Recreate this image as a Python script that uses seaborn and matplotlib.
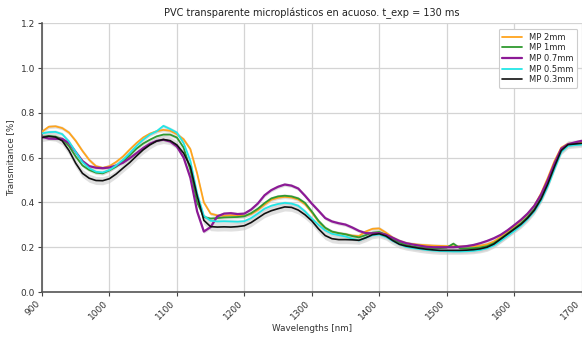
import numpy as np
import pandas as pd
import matplotlib
matplotlib.use("Agg")
import matplotlib.pyplot as plt
import seaborn as sns

# Transmittance spectra of transparent PVC microplastics in water
wavelengths = list(range(900, 1701, 10))

mp_2mm = [
    0.716, 0.738, 0.740, 0.732, 0.712, 0.675, 0.630, 0.590, 0.562, 0.554,
    0.562, 0.581, 0.605, 0.636, 0.665, 0.690, 0.707, 0.718, 0.724, 0.720,
    0.705, 0.682, 0.638, 0.530, 0.400, 0.350, 0.342, 0.340, 0.343, 0.342,
    0.340, 0.348, 0.366, 0.390, 0.412, 0.421, 0.425, 0.422, 0.413, 0.392,
    0.356, 0.315, 0.284, 0.268, 0.262, 0.258, 0.252, 0.250, 0.270, 0.282,
    0.284, 0.265, 0.243, 0.228, 0.218, 0.214, 0.211, 0.209, 0.207, 0.206,
    0.205, 0.204, 0.203, 0.203, 0.204, 0.207, 0.213, 0.225, 0.245, 0.268,
    0.292, 0.318, 0.348, 0.385, 0.440, 0.510, 0.585, 0.645, 0.662, 0.664,
    0.665,
]
mp_1mm = [
    0.693, 0.697, 0.694, 0.683, 0.652, 0.605, 0.565, 0.545, 0.533, 0.530,
    0.543, 0.560, 0.582, 0.610, 0.640, 0.663, 0.680, 0.695, 0.703, 0.703,
    0.690, 0.645, 0.545, 0.400, 0.335, 0.328, 0.330, 0.333, 0.334, 0.335,
    0.338, 0.352, 0.372, 0.397, 0.418, 0.427, 0.430, 0.427, 0.418, 0.398,
    0.360, 0.318, 0.287, 0.270, 0.263, 0.258, 0.250, 0.244, 0.254, 0.265,
    0.268, 0.256, 0.236, 0.220, 0.210, 0.203, 0.199, 0.197, 0.196, 0.196,
    0.198, 0.216, 0.195, 0.195, 0.196, 0.199, 0.205, 0.218, 0.238, 0.260,
    0.283, 0.306, 0.335, 0.370, 0.420, 0.488, 0.565, 0.635, 0.658, 0.660,
    0.662,
]
mp_07mm = [
    0.693, 0.685, 0.684, 0.684, 0.665, 0.625, 0.585, 0.562, 0.555, 0.553,
    0.556, 0.565, 0.577, 0.597, 0.620, 0.643, 0.662, 0.675, 0.680, 0.672,
    0.650, 0.600, 0.510, 0.360, 0.270, 0.290, 0.338, 0.350, 0.352, 0.348,
    0.350, 0.368, 0.395, 0.432, 0.455, 0.470, 0.480, 0.475, 0.462, 0.430,
    0.395, 0.363, 0.330, 0.315, 0.307, 0.301, 0.288, 0.273, 0.263, 0.262,
    0.263, 0.256, 0.242, 0.228, 0.218, 0.212, 0.207, 0.202, 0.200, 0.200,
    0.200, 0.200, 0.202, 0.205, 0.210, 0.218, 0.228, 0.240, 0.255, 0.275,
    0.298, 0.322, 0.350, 0.385, 0.435, 0.500, 0.575, 0.640, 0.660, 0.668,
    0.675,
]
mp_05mm = [
    0.708, 0.714, 0.715, 0.705, 0.672, 0.625, 0.580, 0.553, 0.537, 0.534,
    0.545, 0.565, 0.590, 0.620, 0.652, 0.680, 0.703, 0.718, 0.742, 0.728,
    0.712, 0.665, 0.585, 0.440, 0.340, 0.318, 0.315, 0.316, 0.315, 0.314,
    0.316, 0.330, 0.350, 0.372, 0.385, 0.393, 0.398, 0.395, 0.385, 0.360,
    0.328, 0.300, 0.275, 0.260, 0.254, 0.248, 0.238, 0.230, 0.242, 0.253,
    0.257, 0.246, 0.228, 0.213, 0.201, 0.196, 0.192, 0.188, 0.185, 0.183,
    0.182, 0.181, 0.181, 0.182, 0.184, 0.188, 0.195, 0.208, 0.228, 0.250,
    0.272, 0.296, 0.325, 0.360, 0.408, 0.472, 0.550, 0.625, 0.652, 0.656,
    0.658,
]
mp_03mm = [
    0.690, 0.695, 0.692, 0.675, 0.632, 0.575, 0.530, 0.508, 0.498, 0.497,
    0.506, 0.527, 0.553, 0.578, 0.607, 0.635, 0.657, 0.674, 0.681, 0.676,
    0.657, 0.620, 0.560, 0.430, 0.320, 0.292, 0.290, 0.291, 0.290, 0.292,
    0.296, 0.310, 0.330, 0.350, 0.363, 0.372, 0.380, 0.378, 0.366, 0.345,
    0.318, 0.282, 0.252, 0.238, 0.234, 0.234, 0.233, 0.231, 0.242, 0.256,
    0.260, 0.250, 0.230, 0.213, 0.205, 0.200, 0.195, 0.191, 0.188, 0.186,
    0.186, 0.186, 0.186, 0.187, 0.189, 0.193, 0.200, 0.214, 0.236, 0.258,
    0.280, 0.302, 0.330, 0.365, 0.415, 0.482, 0.560, 0.632, 0.658, 0.661,
    0.664,
]

# half-width of the shaded spread around each mean spectrum
spread = [0.008, 0.008, 0.008, 0.008, 0.018]

labels = ["MP 2mm", "MP 1mm", "MP 0.7mm", "MP 0.5mm", "MP 0.3mm"]
series = [mp_2mm, mp_1mm, mp_07mm, mp_05mm, mp_03mm]
colors = ["#ffa41c", "#2f9a2f", "#8c1a96", "#22e6e6", "#111111"]
widths = [1.3, 1.3, 1.6, 1.3, 1.2]

sns.set_style("whitegrid")
plt.rcParams["font.family"] = ["DejaVu Sans"]

fig = plt.figure(figsize=(5.82, 3.42), dpi=100)
ax = fig.add_axes([42 / 582, 1 - 292 / 342, 539.5 / 582, (292 - 23.3) / 342])

wl = np.array(wavelengths)
for vals, sp in zip(series, spread):
    v = np.array(vals)
    ax.fill_between(wl, v - sp, v + sp, color="#c8c8c8", alpha=0.55, lw=0, zorder=1)

frames = []
for lab, vals in zip(labels, series):
    frames.append(pd.DataFrame({"Wavelength": wavelengths, "Transmitance": vals, "Muestra": lab}))
df = pd.concat(frames, ignore_index=True)

for lab, col, lw in zip(labels, colors, widths):
    sns.lineplot(data=df[df["Muestra"] == lab], x="Wavelength", y="Transmitance",
                 color=col, linewidth=lw, label=lab, ax=ax, zorder=3)

ax.set_xlim(900, 1700)
ax.set_ylim(0.0, 1.2)
ax.set_xticks(list(range(900, 1701, 100)))
ax.set_yticks([0.0, 0.2, 0.4, 0.6, 0.8, 1.0, 1.2])
ax.tick_params(axis="both", labelsize=6.5, length=3, width=0.8, color="#444444",
               labelcolor="#333333", bottom=True, left=True, pad=2)
plt.setp(ax.get_xticklabels(), rotation=45, ha="right", rotation_mode="default")

ax.grid(True, color="#d4d4d4", linewidth=0.9)
for side in ["top", "right"]:
    ax.spines[side].set_visible(False)
for side in ["left", "bottom"]:
    ax.spines[side].set_color("#555555")
    ax.spines[side].set_linewidth(1.2)

ax.set_title("PVC transparente microplásticos en acuoso. t_exp = 130 ms",
             fontsize=7, color="#222222", pad=5)
ax.set_xlabel("Wavelengths [nm]", fontsize=6.3, color="#333333", labelpad=2)
ax.set_ylabel("Transmitance [%]", fontsize=6.3, color="#333333", labelpad=4)

leg = ax.legend(loc="upper right", fontsize=6.0, frameon=True, framealpha=1,
                edgecolor="#cccccc", handlelength=2.4, borderpad=0.45,
                labelspacing=0.2, bbox_to_anchor=(1.0, 0.995))
leg.get_frame().set_linewidth(0.8)

fig.savefig("out.png", dpi=100)
